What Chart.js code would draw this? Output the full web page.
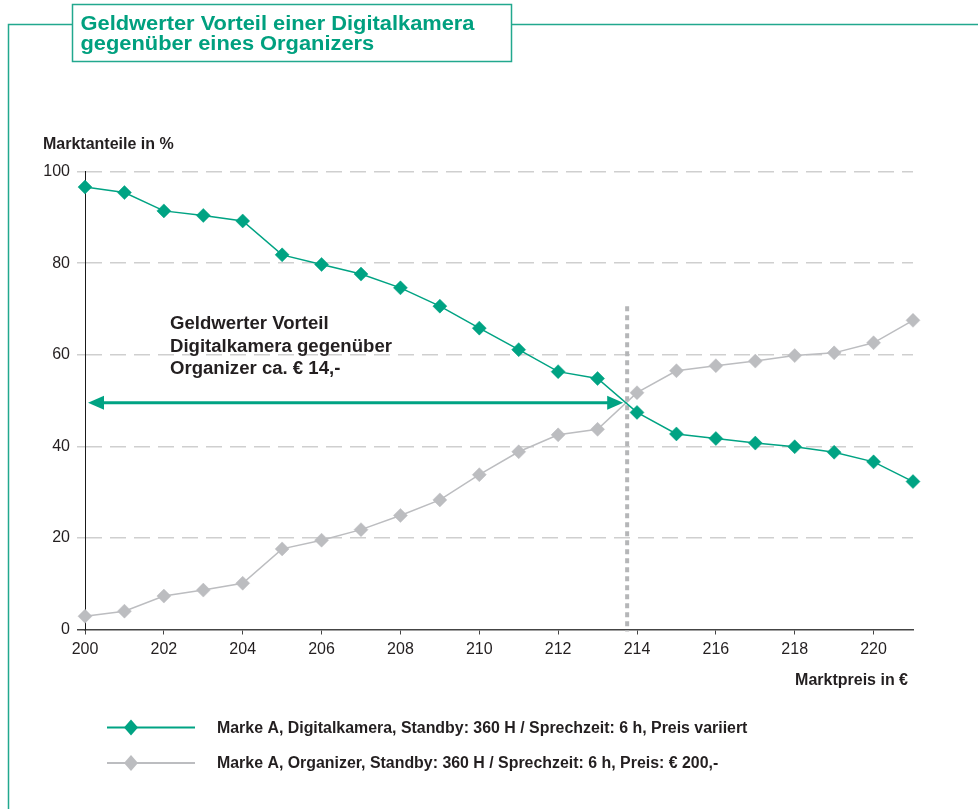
<!DOCTYPE html>
<html lang="de">
<head>
<meta charset="utf-8">
<title>Geldwerter Vorteil einer Digitalkamera gegenüber eines Organizers</title>
<script src="https://cdn.jsdelivr.net/npm/chart.js@4.4.1/dist/chart.umd.min.js"></script>
<style>
  html, body { margin: 0; padding: 0; background: #ffffff; }
  #wrap { position: relative; width: 978px; height: 809px; }
</style>
</head>
<body>
<div id="wrap"><canvas id="chart"></canvas></div>
<script>
// Marktpreis der Digitalkamera in €
const prices = [200, 201, 202, 203, 204, 205, 206, 207, 208, 209, 210,
                211, 212, 213, 214, 215, 216, 217, 218, 219, 220, 221];

// Marktanteile in %
const digitalkameraShare = [96.6, 95.4, 91.4, 90.4, 89.2, 81.8, 79.7, 77.6, 74.6, 70.6, 65.8,
                            61.1, 56.3, 54.8, 47.4, 42.7, 41.7, 40.7, 39.9, 38.7, 36.6, 32.3];
const organizerShare = [2.9, 4.0, 7.3, 8.6, 10.1, 17.6, 19.5, 21.8, 24.9, 28.3, 33.8,
                        38.8, 42.5, 43.7, 51.7, 56.5, 57.6, 58.6, 59.8, 60.4, 62.6, 67.5];

const seriesLabels = [
  'Marke A, Digitalkamera, Standby: 360 H / Sprechzeit: 6 h, Preis variiert',
  'Marke A, Organizer, Standby: 360 H / Sprechzeit: 6 h, Preis: € 200,-'
];

const titleLines = ['Geldwerter Vorteil einer Digitalkamera', 'gegenüber eines Organizers'];
const noteLines = ['Geldwerter Vorteil', 'Digitalkamera gegenüber', 'Organizer ca. € 14,-'];
const yAxisTitle = 'Marktanteile in %';
const xAxisTitle = 'Marktpreis in €';

// Schnittpunkt der beiden Kurven (Preis, Marktanteil) und Oberkante der Markierungslinie
const crossPrice = 213.75;
const crossShare = 49.5;
const arrowEndPrice = 213.65;
const markerTopShare = 70.6;

const GREEN = '#00a383';
const GREEN_TEXT = '#00a07f';
const FRAME = '#22a88e';
const GREY = '#bcbdc0';
const INK = '#231f20';
const FONT = "'Liberation Sans', Arial, Helvetica, sans-serif";

Chart.defaults.font.family = FONT;
Chart.defaults.color = INK;

// Schriftgröße so wählen, dass der Text eine bestimmte Breite einnimmt
function fitFontSize(ctx, text, baseSize, width) {
  ctx.font = 'bold ' + baseSize + 'px ' + FONT;
  return baseSize * width / ctx.measureText(text).width;
}

// Rahmen mit Titelkasten
const framePlugin = {
  id: 'frame',
  beforeDraw(chart) {
    const ctx = chart.ctx;
    ctx.save();
    ctx.fillStyle = '#ffffff';
    ctx.fillRect(0, 0, chart.width, chart.height);
    ctx.strokeStyle = FRAME;
    ctx.lineWidth = 1.5;
    ctx.beginPath();
    ctx.moveTo(8.5, 809);
    ctx.lineTo(8.5, 24.5);
    ctx.lineTo(72, 24.5);
    ctx.moveTo(511.5, 24.5);
    ctx.lineTo(978, 24.5);
    ctx.stroke();
    ctx.strokeRect(72.5, 4.5, 439, 57);

    // Titel: fette Schrift, horizontal auf die Kastenbreite gestreckt
    ctx.fillStyle = GREEN_TEXT;
    ctx.font = 'bold 20px ' + FONT;
    ctx.textBaseline = 'alphabetic';
    ctx.textAlign = 'left';
    const k = 394 / ctx.measureText(titleLines[0]).width;
    ctx.save();
    ctx.translate(80.5, 0);
    ctx.scale(k, 1);
    titleLines.forEach((t, i) => ctx.fillText(t, 0, 29.5 + i * 20.5));
    ctx.restore();

    // Achsentitel
    ctx.fillStyle = INK;
    ctx.font = 'bold 16px ' + FONT;
    ctx.fillText(yAxisTitle, 43, 149);
    ctx.textAlign = 'right';
    ctx.fillText(xAxisTitle, 908, 685);
    ctx.restore();
  }
};

// Markierung des Schnittpunkts, Pfeil und Beschriftung
const notePlugin = {
  id: 'note',
  beforeDatasetsDraw(chart) {
    const ctx = chart.ctx;
    const x = chart.scales.x, y = chart.scales.y;
    const xc = x.getPixelForValue(crossPrice);
    ctx.save();
    ctx.strokeStyle = '#b5b6b8';
    ctx.lineWidth = 4;
    ctx.setLineDash([5, 4]);
    ctx.beginPath();
    ctx.moveTo(xc, y.getPixelForValue(markerTopShare));
    ctx.lineTo(xc, y.getPixelForValue(0) + 2);
    ctx.stroke();
    ctx.setLineDash([]);

    const ya = y.getPixelForValue(crossShare);
    const xl = x.getPixelForValue(prices[0]) + 3;
    const xr = x.getPixelForValue(arrowEndPrice);
    const head = 16, half = 7;
    ctx.strokeStyle = GREEN;
    ctx.fillStyle = GREEN;
    ctx.lineWidth = 3;
    ctx.beginPath();
    ctx.moveTo(xl + head - 2, ya);
    ctx.lineTo(xr - head + 2, ya);
    ctx.stroke();
    ctx.beginPath();
    ctx.moveTo(xl, ya);
    ctx.lineTo(xl + head, ya - half);
    ctx.lineTo(xl + head, ya + half);
    ctx.closePath();
    ctx.fill();
    ctx.beginPath();
    ctx.moveTo(xr, ya);
    ctx.lineTo(xr - head, ya - half);
    ctx.lineTo(xr - head, ya + half);
    ctx.closePath();
    ctx.fill();

    ctx.fillStyle = INK;
    const ns = fitFontSize(ctx, noteLines[1], 18, 222);
    ctx.font = 'bold ' + ns + 'px ' + FONT;
    ctx.textAlign = 'left';
    ctx.textBaseline = 'alphabetic';
    noteLines.forEach((t, i) => ctx.fillText(t, 170, 329 + i * 22.5));
    ctx.restore();
  }
};

// Legende unter dem Diagramm
const legendPlugin = {
  id: 'bottomLegend',
  afterDraw(chart) {
    const ctx = chart.ctx;
    ctx.save();
    const ls = fitFontSize(ctx, chart.data.datasets[0].label, 15, 531);
    ctx.font = 'bold ' + ls + 'px ' + FONT;
    chart.data.datasets.forEach((ds, i) => {
      const yy = 727.5 + i * 35.5;
      ctx.strokeStyle = ds.borderColor;
      ctx.lineWidth = 2;
      ctx.beginPath();
      ctx.moveTo(107, yy);
      ctx.lineTo(195, yy);
      ctx.stroke();
      ctx.fillStyle = ds.pointBackgroundColor;
      ctx.beginPath();
      ctx.moveTo(131, yy - 8);
      ctx.lineTo(138, yy);
      ctx.lineTo(131, yy + 8);
      ctx.lineTo(124, yy);
      ctx.closePath();
      ctx.fill();
      ctx.fillStyle = INK;
      ctx.textAlign = 'left';
      ctx.textBaseline = 'middle';
      ctx.fillText(ds.label, 217, yy + 1);
    });
    ctx.restore();
  }
};

const toPoints = vals => prices.map((p, i) => ({ x: p, y: vals[i] }));

new Chart(document.getElementById('chart'), {
  type: 'line',
  data: {
    datasets: [
      {
        label: seriesLabels[0],
        data: toPoints(digitalkameraShare),
        borderColor: GREEN,
        borderWidth: 1.5,
        pointStyle: 'rectRot',
        pointRadius: 7,
        pointBorderWidth: 0.5,
        pointBackgroundColor: GREEN,
        pointBorderColor: GREEN,
        tension: 0,
        clip: false,
        order: 1
      },
      {
        label: seriesLabels[1],
        data: toPoints(organizerShare),
        borderColor: GREY,
        borderWidth: 1.5,
        pointStyle: 'rectRot',
        pointRadius: 7,
        pointBorderWidth: 0.5,
        pointBackgroundColor: GREY,
        pointBorderColor: GREY,
        tension: 0,
        clip: false,
        order: 2
      }
    ]
  },
  options: {
    responsive: true,
    maintainAspectRatio: false,
    animation: false,
    events: [],
    layout: { padding: { left: 0, top: 171.5, right: 65, bottom: 0 } },
    plugins: {
      legend: { display: false },
      tooltip: { enabled: false },
      title: { display: false }
    },
    scales: {
      x: {
        type: 'linear',
        min: prices[0],
        max: prices[prices.length - 1],
        afterFit(scale) { scale.height = 179.5; },
        ticks: {
          stepSize: 2,
          includeBounds: false,
          padding: 5,
          font: { size: 16 },
          color: INK
        },
        grid: {
          display: true,
          drawOnChartArea: false,
          drawTicks: true,
          tickLength: 5,
          color: '#444444',
          lineWidth: 1
        },
        border: { display: true, color: '#444444', width: 1.5 }
      },
      y: {
        min: 0,
        max: 100,
        afterFit(scale) { scale.width = 85; },
        ticks: {
          stepSize: 20,
          padding: 7,
          font: { size: 16 },
          color: INK
        },
        grid: {
          color: ctx => (ctx.tick && ctx.tick.value === 0 ? 'rgba(0,0,0,0)' : '#cfcfcf'),
          tickColor: ctx => (ctx.tick && ctx.tick.value === 0 ? '#444444' : '#cfcfcf'),
          lineWidth: 1.5,
          tickWidth: 1.5,
          tickLength: 8,
          drawTicks: true
        },
        border: { display: true, color: '#1a1a1a', width: 1, dash: [16, 8] }
      }
    }
  },
  plugins: [framePlugin, notePlugin, legendPlugin]
});
</script>
</body>
</html>
